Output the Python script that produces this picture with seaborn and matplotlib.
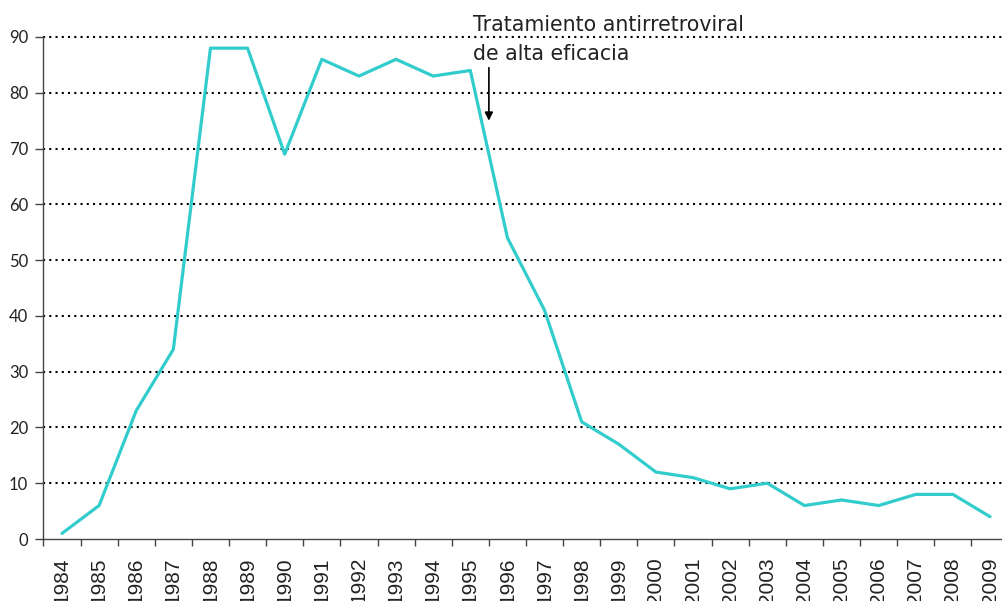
import matplotlib
matplotlib.use("Agg")
import matplotlib.pyplot as plt
import seaborn as sns
import numpy as np
import pandas as pd

years = [str(y) for y in range(1984, 2010)]
values = [1, 6, 23, 34, 88, 88, 69, 86, 83, 86, 83, 84, 54, 41, 21, 17, 12, 11, 9, 10, 6, 7, 6, 8, 8, 4]
yticks = [0, 10, 20, 30, 40, 50, 60, 70, 80, 90]
annotation_lines = ["Tratamiento antirretroviral", "de alta eficacia"]

sns.set_style("white")
plt.rcParams['font.family'] = ['Liberation Sans', 'DejaVu Sans']

W, H = 1002, 601
fig = plt.figure(figsize=(W / 100, H / 100), dpi=100)
ax = fig.add_axes([43.4 / W, 1 - 539 / H, 965.2 / W, 502 / H])

df = pd.DataFrame({"idx": np.arange(len(years)), "value": values})
sns.lineplot(data=df, x="idx", y="value", ax=ax, color="#33CCCC", linewidth=2.3, zorder=3)

ax.set_xlim(-0.5, len(years) - 0.5)
ax.set_ylim(0, 90)
ax.set_yticks(yticks)
ax.set_yticklabels([str(t) for t in yticks], family=['Lato', 'DejaVu Sans'], fontsize=12, color="#222222")
ax.set_xticks(np.arange(len(years)))
ax.set_xticklabels(years, rotation=90, fontsize=15, color="#222222")
ax.set_xticks(np.arange(-0.5, len(years)), minor=True)
ax.tick_params(axis='x', which='major', length=0, pad=13)
ax.tick_params(axis='x', which='minor', length=5, width=1, color="#444444", direction='out', bottom=True)
ax.tick_params(axis='y', which='major', length=5.5, width=1, color="#444444", direction='out', left=True, pad=5.5)
ax.set_xlabel("")
ax.set_ylabel("")

for t in yticks[1:]:
    ax.axhline(t, color="black", linestyle=(0, (1, 2)), linewidth=1.5, zorder=1, clip_on=False)

for s in ["top", "right"]:
    ax.spines[s].set_visible(False)
for s in ["left", "bottom"]:
    ax.spines[s].set_color("#444444")
    ax.spines[s].set_linewidth(1)

ax.annotate("", xy=(11.5, 74.5), xytext=(11.5, 85),
            arrowprops=dict(arrowstyle="-|>", color="black", lw=1.2, mutation_scale=12),
            annotation_clip=False)
for i, line in enumerate(annotation_lines):
    fig.text(473 / W, 1 - (30.7 + 29.5 * i) / H, line, family=['DejaVu Sans'], fontsize=14.8,
             va='baseline', ha='left', color="#222222")

fig.savefig("out.png", dpi=100)
